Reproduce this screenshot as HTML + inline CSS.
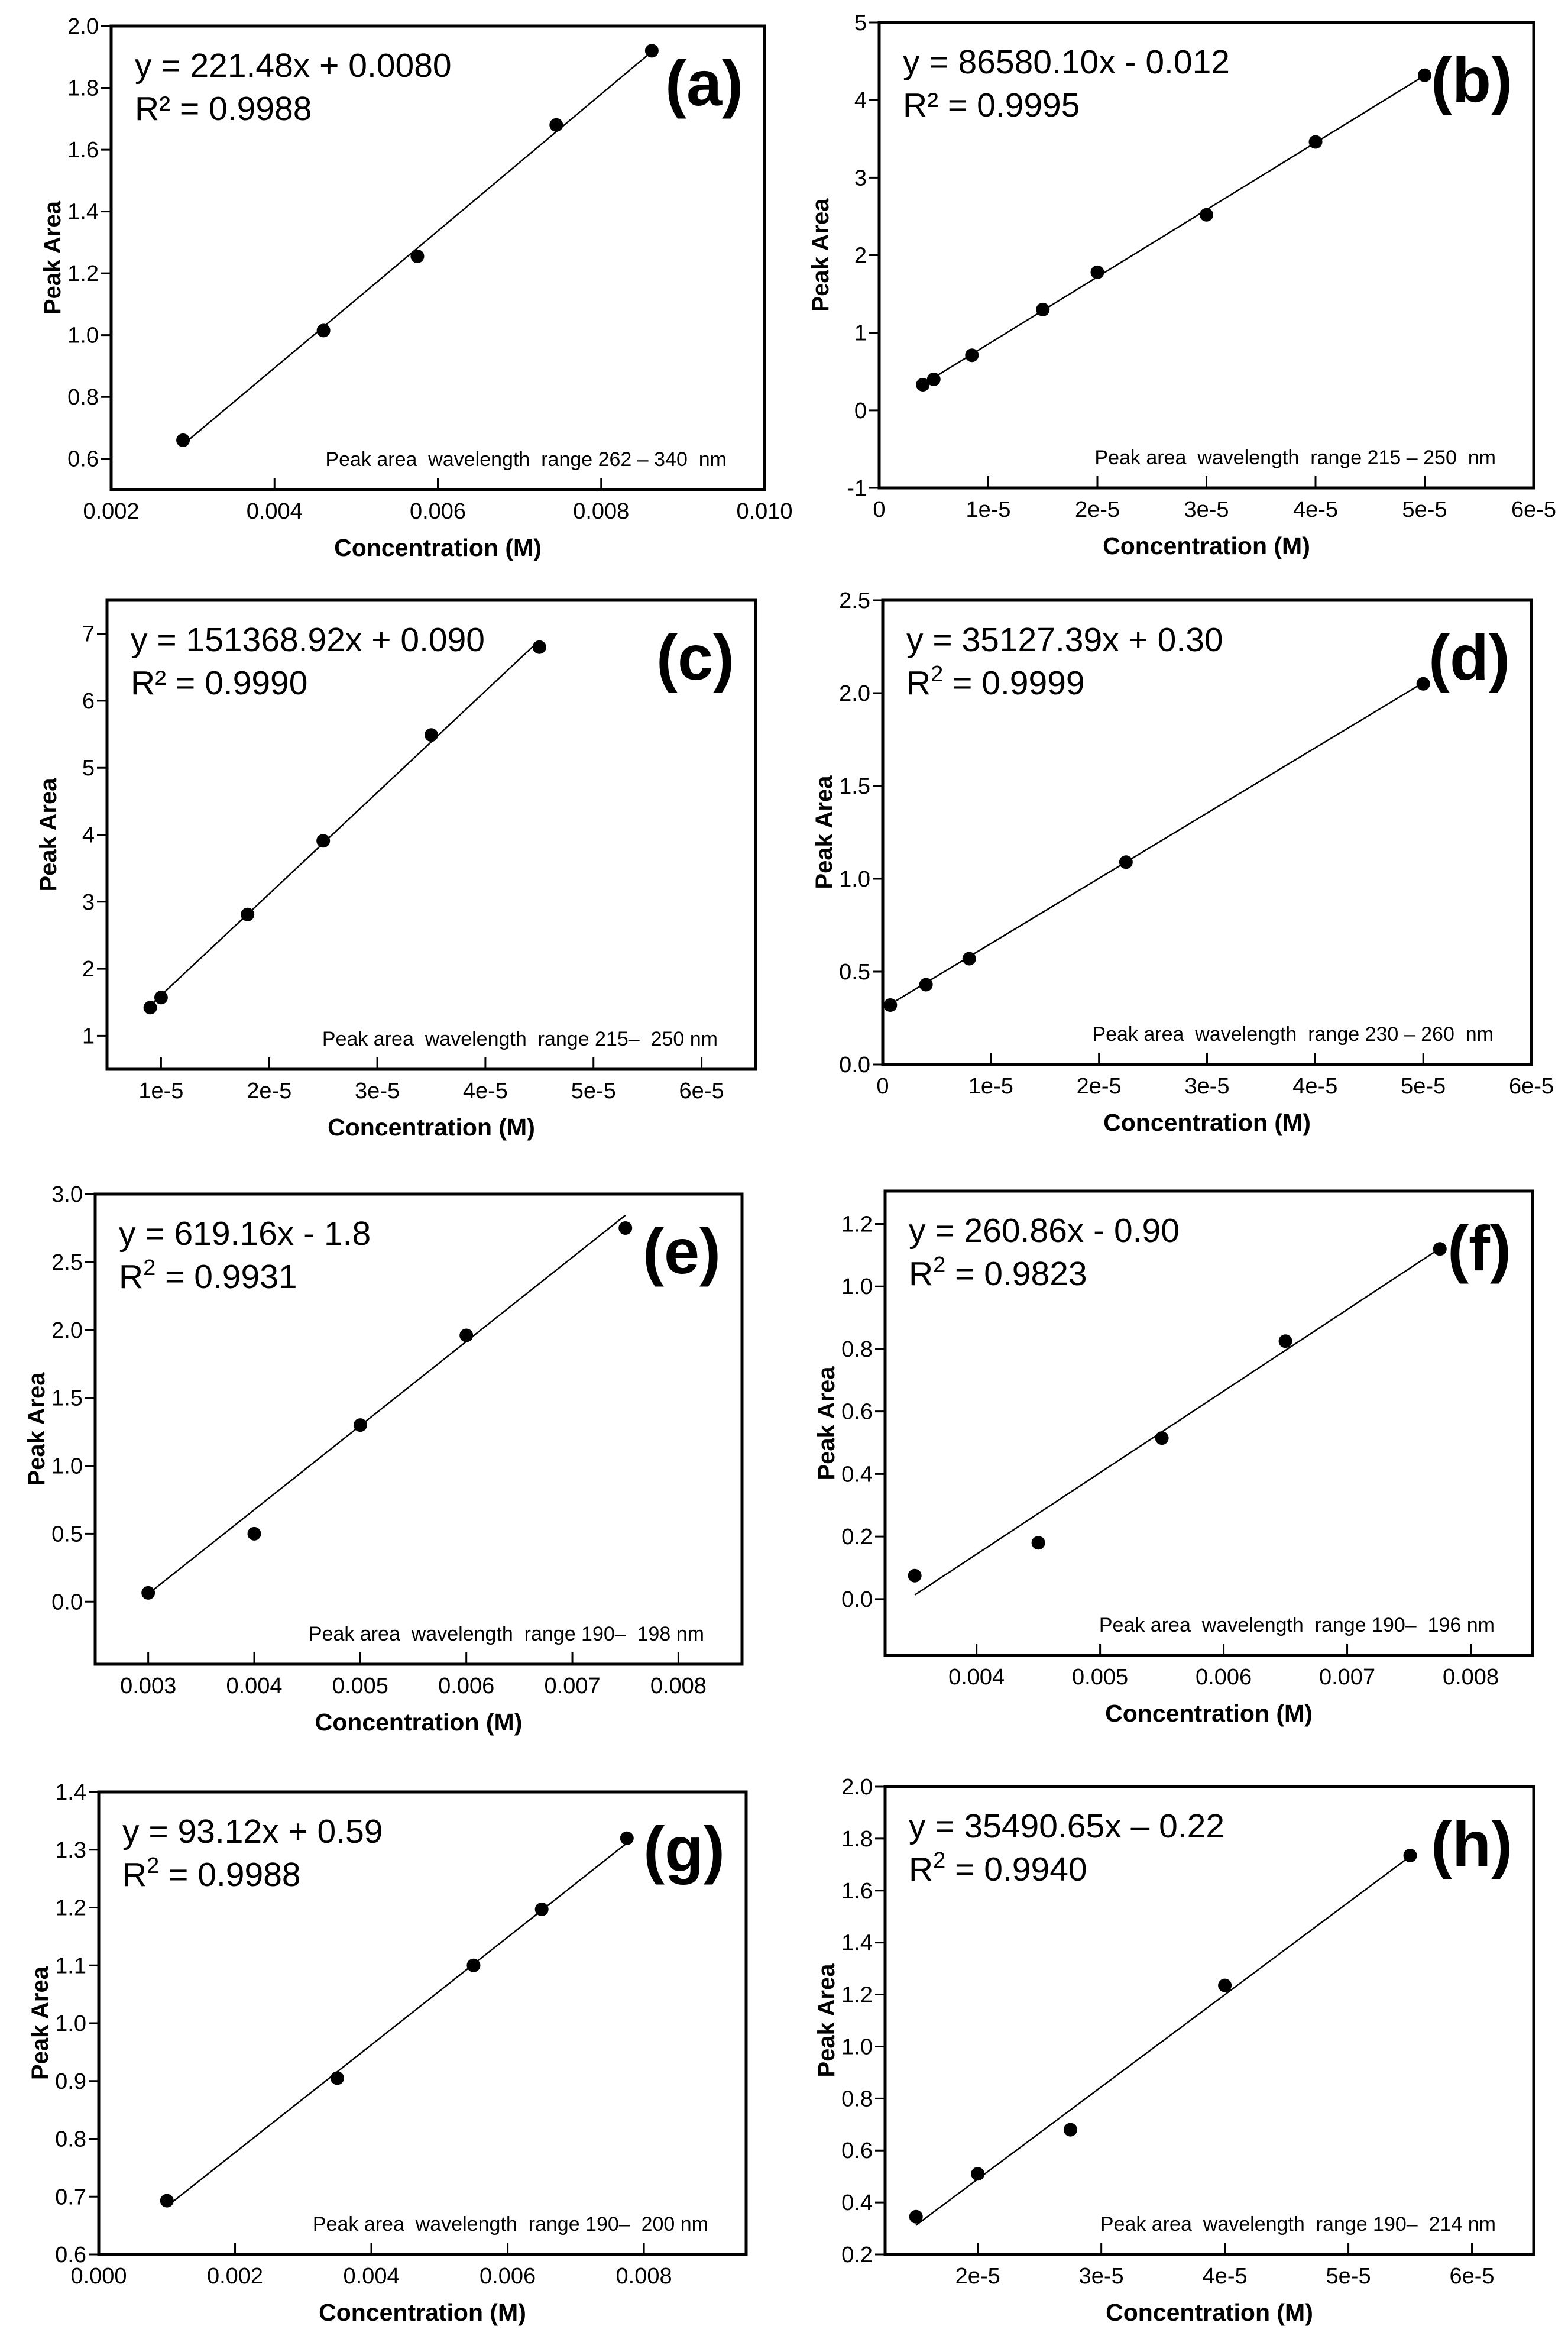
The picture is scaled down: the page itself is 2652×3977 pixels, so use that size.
<!DOCTYPE html>
<html><head><meta charset="utf-8"><title>Calibration curves</title>
<style>
html,body{margin:0;padding:0;background:#fff;}
svg{display:block;font-family:"Liberation Sans",Arial,sans-serif;}
</style></head>
<body>
<svg id="fig" xmlns="http://www.w3.org/2000/svg" width="2652" height="3977" viewBox="0 0 2652 3977">
<rect x="0" y="0" width="2652" height="3977" fill="#fff"/>
</svg>
<script>
// ---- data arrays ----
const aX = [0.00288, 0.0046, 0.00575, 0.00745, 0.00862];
const aY = [0.66, 1.015, 1.255, 1.68, 1.92];
const aXTicks = [0.002, 0.004, 0.006, 0.008, 0.010];
const aXLabels = ["0.002", "0.004", "0.006", "0.008", "0.010"];
const aYTicks = [0.6, 0.8, 1.0, 1.2, 1.4, 1.6, 1.8, 2.0];
const aYLabels = ["0.6", "0.8", "1.0", "1.2", "1.4", "1.6", "1.8", "2.0"];

const bX = [4e-6, 5e-6, 8.5e-6, 1.5e-5, 2e-5, 3e-5, 4e-5, 5e-5];
const bY = [0.33, 0.40, 0.71, 1.30, 1.78, 2.52, 3.46, 4.32];
const bXTicks = [0, 1e-5, 2e-5, 3e-5, 4e-5, 5e-5, 6e-5];
const bXLabels = ["0", "1e-5", "2e-5", "3e-5", "4e-5", "5e-5", "6e-5"];
const bYTicks = [-1, 0, 1, 2, 3, 4, 5];
const bYLabels = ["-1", "0", "1", "2", "3", "4", "5"];

const cX = [0.9e-5, 1e-5, 1.8e-5, 2.5e-5, 3.5e-5, 4.5e-5];
const cY = [1.42, 1.57, 2.81, 3.91, 5.49, 6.80];
const cXTicks = [1e-5, 2e-5, 3e-5, 4e-5, 5e-5, 6e-5];
const cXLabels = ["1e-5", "2e-5", "3e-5", "4e-5", "5e-5", "6e-5"];
const cYTicks = [1, 2, 3, 4, 5, 6, 7];
const cYLabels = ["1", "2", "3", "4", "5", "6", "7"];

const dX = [7e-7, 4e-6, 8e-6, 2.25e-5, 5e-5];
const dY = [0.32, 0.43, 0.57, 1.09, 2.05];
const dXTicks = [0, 1e-5, 2e-5, 3e-5, 4e-5, 5e-5, 6e-5];
const dXLabels = ["0", "1e-5", "2e-5", "3e-5", "4e-5", "5e-5", "6e-5"];
const dYTicks = [0, 0.5, 1.0, 1.5, 2.0, 2.5];
const dYLabels = ["0.0", "0.5", "1.0", "1.5", "2.0", "2.5"];

const eX = [0.003, 0.004, 0.005, 0.006, 0.0075];
const eY = [0.065, 0.50, 1.30, 1.96, 2.75];
const eXTicks = [0.003, 0.004, 0.005, 0.006, 0.007, 0.008];
const eXLabels = ["0.003", "0.004", "0.005", "0.006", "0.007", "0.008"];
const eYTicks = [0, 0.5, 1.0, 1.5, 2.0, 2.5, 3.0];
const eYLabels = ["0.0", "0.5", "1.0", "1.5", "2.0", "2.5", "3.0"];

const fX = [0.0035, 0.0045, 0.0055, 0.0065, 0.00775];
const fY = [0.075, 0.18, 0.515, 0.825, 1.12];
const fXTicks = [0.004, 0.005, 0.006, 0.007, 0.008];
const fXLabels = ["0.004", "0.005", "0.006", "0.007", "0.008"];
const fYTicks = [0, 0.2, 0.4, 0.6, 0.8, 1.0, 1.2];
const fYLabels = ["0.0", "0.2", "0.4", "0.6", "0.8", "1.0", "1.2"];

const gX = [0.001, 0.0035, 0.0055, 0.0065, 0.00775];
const gY = [0.693, 0.905, 1.10, 1.197, 1.32];
const gXTicks = [0, 0.002, 0.004, 0.006, 0.008];
const gXLabels = ["0.000", "0.002", "0.004", "0.006", "0.008"];
const gYTicks = [0.6, 0.7, 0.8, 0.9, 1.0, 1.1, 1.2, 1.3, 1.4];
const gYLabels = ["0.6", "0.7", "0.8", "0.9", "1.0", "1.1", "1.2", "1.3", "1.4"];

const hX = [1.5e-5, 2e-5, 2.75e-5, 4e-5, 5.5e-5];
const hY = [0.345, 0.51, 0.68, 1.235, 1.735];
const hXTicks = [2e-5, 3e-5, 4e-5, 5e-5, 6e-5];
const hXLabels = ["2e-5", "3e-5", "4e-5", "5e-5", "6e-5"];
const hYTicks = [0.2, 0.4, 0.6, 0.8, 1.0, 1.2, 1.4, 1.6, 1.8, 2.0];
const hYLabels = ["0.2", "0.4", "0.6", "0.8", "1.0", "1.2", "1.4", "1.6", "1.8", "2.0"];

// fit slopes / intercepts
const fitSlopes = [221.48, 86580.10, 151368.92, 35127.39, 619.16, 260.86, 93.12, 35490.65];
const fitIntercepts = [0.0080, -0.012, 0.090, 0.30, -1.8, -0.90, 0.59, -0.22];

const NS = "http://www.w3.org/2000/svg";
const svg = document.getElementById("fig");
function mk(tag, attrs, parent) {
  const e = document.createElementNS(NS, tag);
  for (const k in attrs) e.setAttribute(k, attrs[k]);
  (parent || svg).appendChild(e);
  return e;
}

const panels = [
  {id:"a", L:188, R:1293, T:44, B:828, xmin:0.002, xmax:0.010, ymin:0.5, ymax:2.0, px:aX, py:aY, xt:aXTicks, xl:aXLabels, yt:aYTicks, yl:aYLabels, eq:"y = 221.48x + 0.0080", r2:"0.9988", sup:false, note:"Peak area  wavelength  range 262 \u2013 340  nm"},
  {id:"b", L:1487, R:2594, T:38, B:825, xmin:0, xmax:6e-5, ymin:-1, ymax:5, px:bX, py:bY, xt:bXTicks, xl:bXLabels, yt:bYTicks, yl:bYLabels, eq:"y = 86580.10x  - 0.012", r2:"0.9995", sup:false, note:"Peak area  wavelength  range 215 \u2013 250  nm"},
  {id:"c", L:181, R:1278, T:1015, B:1808, xmin:0.5e-5, xmax:6.5e-5, ymin:0.5, ymax:7.5, px:cX, py:cY, xt:cXTicks, xl:cXLabels, yt:cYTicks, yl:cYLabels, eq:"y = 151368.92x  + 0.090", r2:"0.9990", sup:false, note:"Peak area  wavelength  range 215\u2013  250 nm"},
  {id:"d", L:1493, R:2590, T:1015, B:1800, xmin:0, xmax:6e-5, ymin:0, ymax:2.5, px:dX, py:dY, xt:dXTicks, xl:dXLabels, yt:dYTicks, yl:dYLabels, eq:"y = 35127.39x  + 0.30", r2:"0.9999", sup:true, note:"Peak area  wavelength  range 230 \u2013 260  nm"},
  {id:"e", L:161, R:1255, T:2019, B:2814, xmin:0.0025, xmax:0.0086, ymin:-0.46, ymax:3.0, px:eX, py:eY, xt:eXTicks, xl:eXLabels, yt:eYTicks, yl:eYLabels, eq:"y = 619.16x  -  1.8", r2:"0.9931", sup:true, note:"Peak area  wavelength  range 190\u2013  198 nm"},
  {id:"f", L:1497, R:2592, T:2014, B:2799, xmin:0.00326, xmax:0.0085, ymin:-0.18, ymax:1.305, px:fX, py:fY, xt:fXTicks, xl:fXLabels, yt:fYTicks, yl:fYLabels, eq:"y = 260.86x - 0.90", r2:"0.9823", sup:true, note:"Peak area  wavelength  range 190\u2013  196 nm"},
  {id:"g", L:167, R:1262, T:3030, B:3812, xmin:0, xmax:0.0095, ymin:0.6, ymax:1.4, px:gX, py:gY, xt:gXTicks, xl:gXLabels, yt:gYTicks, yl:gYLabels, eq:"y = 93.12x + 0.59", r2:"0.9988", sup:true, note:"Peak area  wavelength  range 190\u2013  200 nm"},
  {id:"h", L:1497, R:2594, T:3021, B:3812, xmin:1.25e-5, xmax:6.5e-5, ymin:0.2, ymax:2.0, px:hX, py:hY, xt:hXTicks, xl:hXLabels, yt:hYTicks, yl:hYLabels, eq:"y = 35490.65x  \u2013 0.22", r2:"0.9940", sup:true, note:"Peak area  wavelength  range 190\u2013  214 nm"}
];

panels.forEach((p, i) => {
  const g = mk("g", {});
  
  
  const sx = v => p.L + (v - p.xmin) / (p.xmax - p.xmin) * (p.R - p.L);
  const sy = v => p.B - (v - p.ymin) / (p.ymax - p.ymin) * (p.B - p.T);

  p.yt.forEach((v, k) => {
    const y = sy(v);
    const t = mk("line", {x1:p.L - 17, x2:p.L, y1:y, y2:y, stroke:"#000", "stroke-width":3}, g);
    
    
    const tx = mk("text", {x:p.L - 21, y:y + 13, "text-anchor":"end", "font-size":38, fill:"#000"}, g);
    
    
    tx.textContent = p.yl[k];
  });
  p.xt.forEach((v, k) => {
    const x = sx(v);
    const t = mk("line", {x1:x, x2:x, y1:p.B - 20, y2:p.B, stroke:"#000", "stroke-width":3}, g);
    
    
    const tx = mk("text", {x:x, y:p.B + 49, "text-anchor":"middle", "font-size":38, fill:"#000"}, g);
    
    
    tx.textContent = p.xl[k];
  });

  const x0 = Math.min(...p.px), x1 = Math.max(...p.px);
  const m = fitSlopes[i], c = fitIntercepts[i];
  const fl = mk("line", {x1:sx(x0), y1:sy(m * x0 + c), x2:sx(x1), y2:sy(m * x1 + c), stroke:"#000", "stroke-width":2.5}, g);
  
  

  p.px.forEach((xv, k) => {
    const pt = mk("circle", {cx:sx(xv), cy:sy(p.py[k]), r:11.5, fill:"#000"}, g);
    
    
  });

  const fr = mk("rect", {x:p.L, y:p.T, width:p.R - p.L, height:p.B - p.T, fill:"none", stroke:"#000", "stroke-width":5}, g);
  
  

  const eq = mk("text", {x:p.L + 40, y:p.T + 86, "font-size":57, fill:"#000"}, g);
  
  
  eq.textContent = p.eq;
  const r2 = mk("text", {x:p.L + 40, y:p.T + 159, "font-size":57, fill:"#000"}, g);
  
  
  if (p.sup) {
    r2.appendChild(document.createTextNode("R"));
    const s = mk("tspan", {"font-size":38, dy:-22}, r2);
    s.textContent = "2";
    const rest = mk("tspan", {dy:22}, r2);
    rest.textContent = " = " + p.r2;
  } else {
    r2.textContent = "R\u00B2 = " + p.r2;
  }

  const lb = mk("text", {x:p.R - 36, y:p.T + 134, "text-anchor":"end", "font-size":108, "font-weight":"bold", fill:"#000"}, g);
  
  
  lb.textContent = "(" + p.id + ")";

  const nt = mk("text", {x:p.R - 64, y:p.B - 40, "text-anchor":"end", "font-size":34, fill:"#000"}, g);
  
  
  nt.setAttribute('xml:space', 'preserve');
  nt.style.whiteSpace = "pre";
  nt.textContent = p.note;

  const xt = mk("text", {x:(p.L + p.R) / 2, y:p.B + 112, "text-anchor":"middle", "font-size":41, "font-weight":"bold", fill:"#000"}, g);
  
  
  xt.textContent = "Concentration (M)";
  const cy = (p.T + p.B) / 2, cx = p.L - 86;
  const yt = mk("text", {x:cx, y:cy, transform:"rotate(-90 " + cx + " " + cy + ")", "text-anchor":"middle", "font-size":40, "font-weight":"bold", fill:"#000"}, g);
  
  
  yt.textContent = "Peak Area";
});
</script>
</body></html>
